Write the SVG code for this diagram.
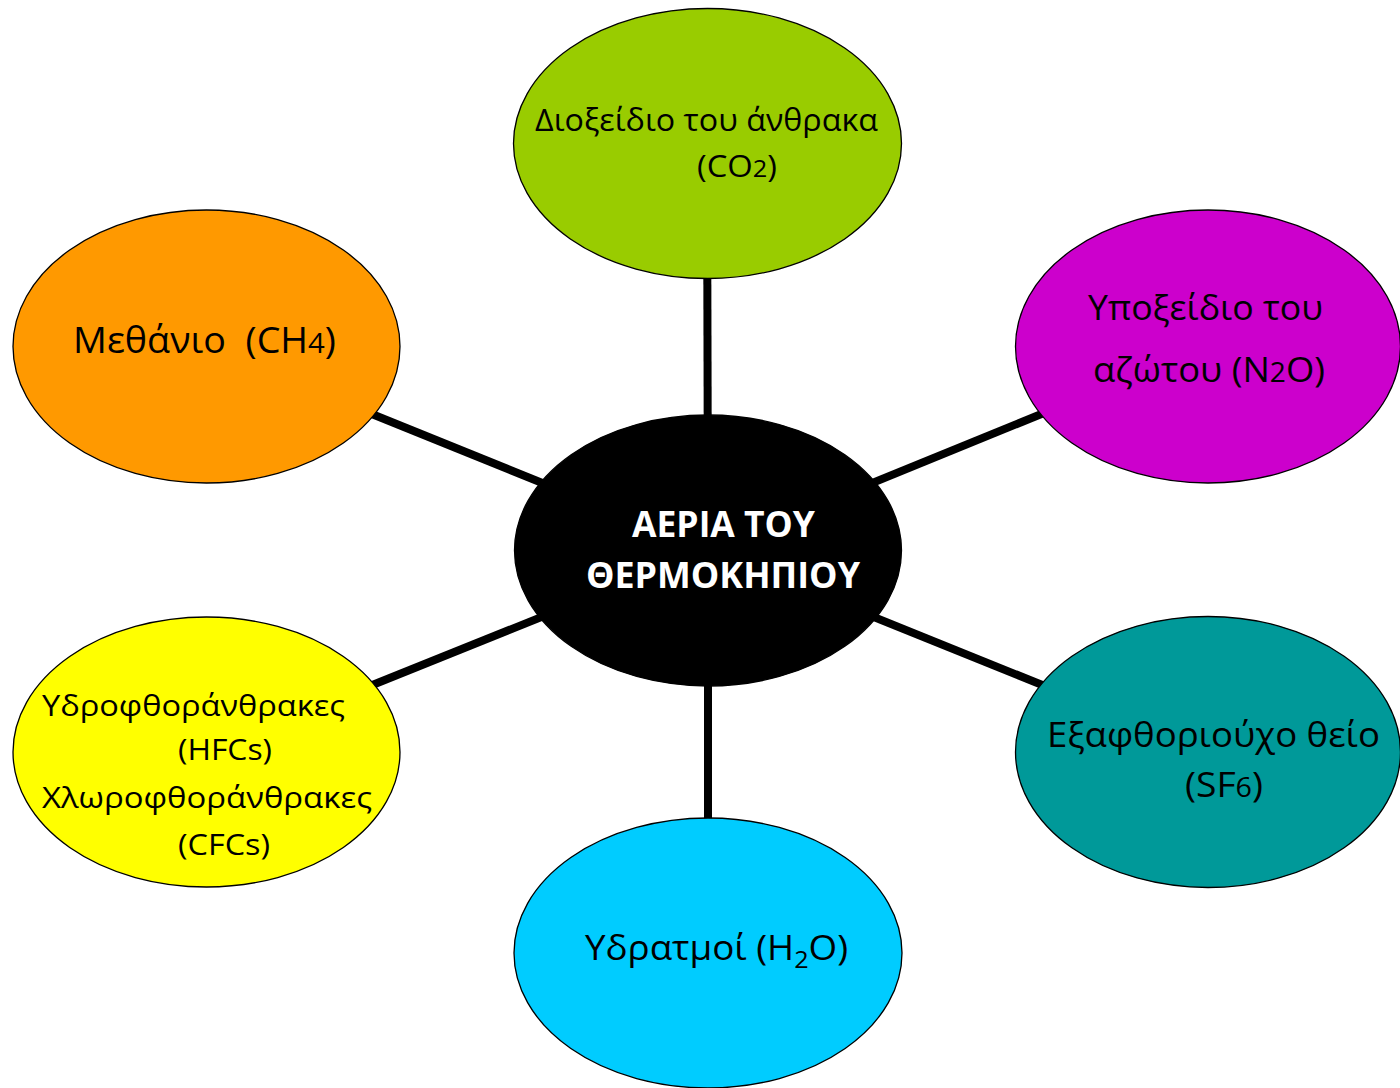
<svg xmlns="http://www.w3.org/2000/svg" width="1400" height="1088" viewBox="0 0 1400 1088">
<style>
.node{stroke:#000;stroke-width:1.3}
.lbl{font-family:"Open Sans","Noto Sans","DejaVu Sans",sans-serif;fill:#000;text-anchor:middle;white-space:pre}
.ctr{font-family:"Open Sans","Noto Sans","DejaVu Sans",sans-serif;fill:#fff;font-weight:bold;text-anchor:middle}
.conn{stroke:#000;stroke-width:8;fill:none}
</style>
<rect width="1400" height="1088" fill="#fff"/>
<g id="connectors">
<line class="conn" x1="708" y1="550" x2="707" y2="143"/>
<line class="conn" x1="708" y1="550" x2="708" y2="953"/>
<line class="conn" x1="708" y1="550" x2="206" y2="347"/>
<line class="conn" x1="708" y1="550" x2="1208" y2="346"/>
<line class="conn" x1="708" y1="550" x2="206" y2="752"/>
<line class="conn" x1="708" y1="550" x2="1208" y2="752"/>
</g>
<g id="n-co2">
<ellipse class="node" cx="707.5" cy="143.5" rx="194" ry="135" fill="#99CC00"/>
<text class="lbl" x="706.5" y="131" font-size="31" textLength="343" lengthAdjust="spacingAndGlyphs">Διοξείδιο του άνθρακα</text>
<text class="lbl" x="737" y="177" font-size="31" textLength="80" lengthAdjust="spacingAndGlyphs">(CO<tspan font-size="24">2</tspan>)</text>
</g>
<g id="n-n2o">
<ellipse class="node" cx="1208" cy="346.5" rx="192.5" ry="136.5" fill="#CC00CC"/>
<text class="lbl" x="1205.5" y="320" font-size="35" textLength="235" lengthAdjust="spacingAndGlyphs">Υποξείδιο του</text>
<text class="lbl" x="1209" y="382" font-size="35" textLength="232" lengthAdjust="spacingAndGlyphs">αζώτου (N<tspan font-size="27">2</tspan>O)</text>
</g>
<g id="n-ch4">
<ellipse class="node" cx="206.5" cy="346.5" rx="193.5" ry="136.5" fill="#FF9900"/>
<text class="lbl" x="204.5" y="353" font-size="36" textLength="263" lengthAdjust="spacingAndGlyphs">Μεθάνιο  (CH<tspan font-size="28">4</tspan>)</text>
</g>
<g id="n-center">
<ellipse class="node" cx="708" cy="550.5" rx="193.5" ry="135.5" fill="#000"/>
<text class="ctr" x="723.5" y="537" font-size="35" textLength="183" lengthAdjust="spacingAndGlyphs">ΑΕΡΙΑ ΤΟΥ</text>
<text class="ctr" x="723" y="588" font-size="35" textLength="274" lengthAdjust="spacingAndGlyphs">ΘΕΡΜΟΚΗΠΙΟΥ</text>
</g>
<g id="n-hfc">
<ellipse class="node" cx="206.5" cy="752" rx="193.5" ry="135" fill="#FFFF00"/>
<text class="lbl" x="193.5" y="716" font-size="30" textLength="303" lengthAdjust="spacingAndGlyphs">Υδροφθοράνθρακες</text>
<text class="lbl" x="225" y="760" font-size="30" textLength="94" lengthAdjust="spacingAndGlyphs">(HFCs)</text>
<text class="lbl" x="207" y="808" font-size="30" textLength="330" lengthAdjust="spacingAndGlyphs">Χλωροφθοράνθρακες</text>
<text class="lbl" x="224" y="855" font-size="30" textLength="92" lengthAdjust="spacingAndGlyphs">(CFCs)</text>
</g>
<g id="n-sf6">
<ellipse class="node" cx="1208" cy="752" rx="192.5" ry="135.5" fill="#009999"/>
<text class="lbl" x="1213.5" y="747" font-size="35" textLength="333" lengthAdjust="spacingAndGlyphs">Εξαφθοριούχο θείο</text>
<text class="lbl" x="1224" y="797" font-size="35" textLength="78" lengthAdjust="spacingAndGlyphs">(SF<tspan font-size="27">6</tspan>)</text>
</g>
<g id="n-h2o">
<ellipse class="node" cx="708" cy="953" rx="194" ry="135" fill="#00CCFF"/>
<text class="lbl" x="716.5" y="960" font-size="35" textLength="263" lengthAdjust="spacingAndGlyphs">Υδρατμοί (H<tspan font-size="24" dy="8">2</tspan><tspan dy="-8">O)</tspan></text>
</g>
</svg>
